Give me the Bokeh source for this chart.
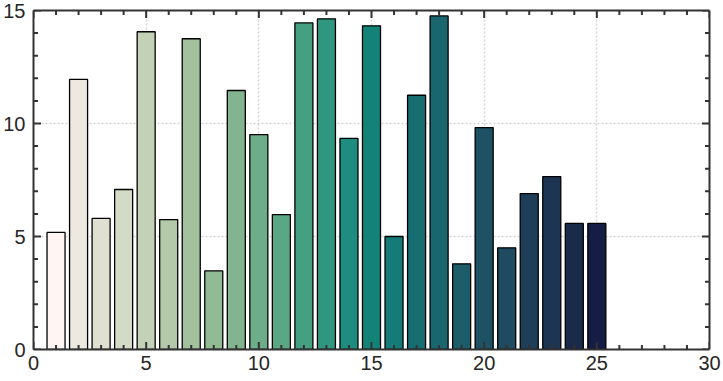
import math
from bokeh.plotting import figure
from bokeh.models import Range1d, LinearAxis, FixedTicker, ColumnDataSource, Grid
from bokeh.embed import file_html
from bokeh.resources import INLINE

positions = list(range(1, 26))
values = [5.18, 11.95, 5.8, 7.08, 14.06, 5.75, 13.75, 3.48, 11.46, 9.51,
          5.97, 14.45, 14.63, 9.34, 14.32, 5.0, 11.25, 14.76, 3.79, 9.82,
          4.5, 6.9, 7.65, 5.58, 5.58]
colors = ["#fff6f4", "#ede9e1", "#dfe0d2", "#d3dbc6", "#c3d1b7", "#b3c9a9",
          "#a2c19c", "#92ba93", "#82b48f", "#6dad8a", "#5aa785", "#45a082",
          "#2f9780", "#1e8c7e", "#138378", "#147b78", "#176e72", "#1a666f",
          "#1c5d69", "#1e5163", "#1f4a5f", "#1f3f58", "#1d3552", "#1a2a4b",
          "#151d44"]
x_major = [0, 5, 10, 15, 20, 25, 30]
x_minor = [1, 2, 3, 4, 6, 7, 8, 9, 11, 12, 13, 14, 16, 17, 18, 19,
           21, 22, 23, 24, 26, 27, 28, 29]
y_major = [0, 5, 10, 15]
y_minor = [1, 2, 3, 4, 6, 7, 8, 9, 11, 12, 13, 14]
x_lo, x_hi = 0, 30
y_lo, y_hi = 0, 15

AX = "#333333"
src = ColumnDataSource(dict(x=positions, top=values, color=colors))

p = figure(width=723, height=381, output_backend="svg", toolbar_location=None,
           x_range=Range1d(x_lo, x_hi), y_range=Range1d(y_lo, y_hi),
           x_axis_type=None, y_axis_type=None,
           min_border_left=33, min_border_right=14, min_border_top=10,
           min_border_bottom=32)
p.outline_line_color = None
p.background_fill_color = "white"
p.border_fill_color = "white"

def make_axis(ticks, labels=True, standoff=6):
    ax = LinearAxis(ticker=FixedTicker(ticks=ticks))
    ax.axis_line_width = 2
    ax.axis_line_color = AX
    ax.major_tick_line_color = None
    ax.minor_tick_line_color = None
    ax.major_tick_in = 0
    ax.major_tick_out = 0
    ax.minor_tick_in = 0
    ax.minor_tick_out = 0
    ax.major_label_text_font = "Liberation Sans"
    ax.major_label_text_font_size = "20px"
    ax.major_label_text_color = "#262626"
    ax.major_label_standoff = standoff
    if not labels:
        ax.major_label_text_font_size = "0px"
        ax.major_label_standoff = 0
        ax.ticker = FixedTicker(ticks=[])
    return ax

p.add_layout(make_axis(x_major, standoff=6), "below")
p.add_layout(make_axis(x_major, labels=False), "above")
p.add_layout(make_axis(y_major, standoff=8), "left")
p.add_layout(make_axis(y_major, labels=False), "right")

for dim, t in ((0, x_major), (1, y_major)):
    g = Grid(dimension=dim, ticker=FixedTicker(ticks=t))
    g.grid_line_color = "#d4d4d4"
    g.grid_line_dash = "2 2"
    g.grid_line_width = 1.5
    p.add_layout(g, "center")

p.vbar(x="x", top="top", width=0.8, bottom=0, fill_color="color",
       line_color="black", line_width=1.3, source=src)

# inward ticks on all four sides: dash markers centred on the frame edge,
# the outer half is clipped by the frame
def ticks_x(tk, y, size):
    p.scatter(x=tk, y=[y] * len(tk), marker="dash", size=size,
              angle=math.pi / 2, line_color=AX, line_width=2)

def ticks_y(tk, x, size):
    p.scatter(x=[x] * len(tk), y=tk, marker="dash", size=size,
              angle=0, line_color=AX, line_width=2)

for yy in (y_lo, y_hi):
    ticks_x(x_major, yy, 15)
    ticks_x(x_minor, yy, 9)
for xx in (x_lo, x_hi):
    ticks_y(y_major, xx, 15)
    ticks_y(y_minor, xx, 9)

open("out.html", "w").write(file_html(p, INLINE))
